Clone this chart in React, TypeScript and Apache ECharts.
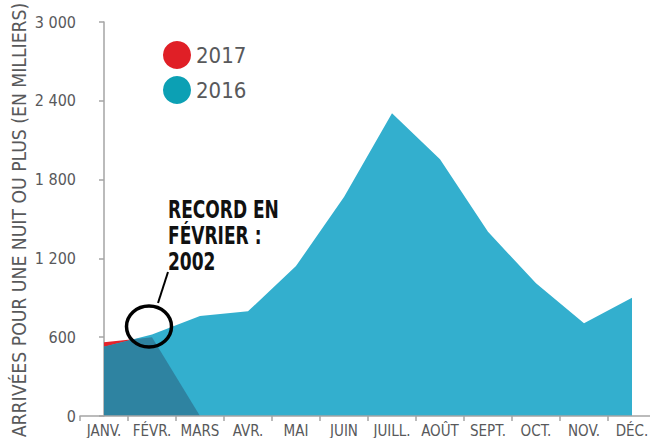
import React, { useEffect, useRef } from "react";
import * as echarts from "echarts";

const months = ["JANV.", "FÉVR.", "MARS", "AVR.", "MAI", "JUIN", "JUILL.", "AOÛT", "SEPT.", "OCT.", "NOV.", "DÉC."];
const arrivals2016 = [528, 620, 761, 797, 1142, 1667, 2305, 1954, 1403, 1010, 706, 901];
const arrivals2017 = [561, 600, 0];
const yTicks = [0, 600, 1200, 1800, 2400, 3000];
const seriesNames = ["2017", "2016"];
const yTitle = "ARRIVÉES POUR UNE NUIT OU PLUS (EN MILLIERS)";

const FONT = "'DejaVu Sans Condensed', 'Liberation Sans Narrow', 'Roboto', sans-serif";
const GREY = "#58595b";

function overlapPoints(a: number[], b: number[]): number[][] {
  const pts: number[][] = [];
  const n = Math.min(a.length, b.length);
  for (let i = 0; i < n; i++) {
    pts.push([i, Math.min(a[i], b[i])]);
    if (i < n - 1) {
      const d0 = b[i] - a[i];
      const d1 = b[i + 1] - a[i + 1];
      if (d0 * d1 < 0) {
        const t = d0 / (d0 - d1);
        pts.push([i + t, a[i] + t * (a[i + 1] - a[i])]);
      }
    }
  }
  return pts;
}

const fmt = (v: number) => String(v).replace(/\B(?=(\d{3})+(?!\d))/g, " ");

export default function App() {
  const ref = useRef<HTMLDivElement>(null);
  useEffect(() => {
    if (!ref.current) return;
    const chart = echarts.init(ref.current, null, { renderer: "svg" });
    chart.setOption({
      animation: false,
      backgroundColor: "#ffffff",
      grid: { left: 80, top: 22, width: 576, height: 394, outerBoundsMode: "none", containLabel: false },
      legend: {
        orient: "vertical",
        left: 158,
        top: 36,
        icon: "circle",
        itemWidth: 28,
        itemHeight: 28,
        itemGap: 7,
        selectedMode: false,
        textStyle: { fontSize: 22, color: GREY, fontFamily: FONT, padding: [0, 0, 0, 0] },
        data: [
          { name: seriesNames[0], itemStyle: { color: "#e01f26" } },
          { name: seriesNames[1], itemStyle: { color: "#0ca0b4" } },
        ],
      },
      xAxis: [
        {
          type: "category",
          data: months,
          boundaryGap: true,
          axisLine: { lineStyle: { color: "#a5a5a5", width: 1.5 } },
          axisTick: { show: true, length: 5, interval: 0, lineStyle: { color: "#a5a5a5", width: 1.5 } },
          axisLabel: { color: GREY, fontSize: 15, fontFamily: FONT, margin: 7, interval: 0 },
          z: 10,
        },
        {
          type: "value",
          min: -0.5,
          max: 11.5,
          show: false,
        },
      ],
      yAxis: {
        type: "value",
        min: yTicks[0],
        max: yTicks[yTicks.length - 1],
        interval: 600,
        splitLine: { show: false },
        axisLine: { show: true, lineStyle: { color: "#a5a5a5", width: 1.5 } },
        axisTick: { show: true, length: 5, lineStyle: { color: "#a5a5a5", width: 1.5 } },
        axisLabel: { color: GREY, fontSize: 16, fontFamily: FONT, margin: 4, formatter: (v: number) => fmt(v) },
      },
      series: [
        {
          name: seriesNames[0],
          type: "line",
          data: arrivals2017,
          symbol: "none",
          lineStyle: { width: 0 },
          itemStyle: { color: "#e01f26" },
          areaStyle: { color: "#e3232b", opacity: 1 },
          z: 1,
        },
        {
          name: seriesNames[1],
          type: "line",
          data: arrivals2016,
          symbol: "none",
          lineStyle: { width: 0 },
          itemStyle: { color: "#0ca0b4" },
          areaStyle: { color: "#33afce", opacity: 1 },
          z: 2,
        },
        {
          name: "overlap",
          type: "line",
          xAxisIndex: 1,
          data: overlapPoints(arrivals2016, arrivals2017),
          symbol: "none",
          lineStyle: { width: 0 },
          areaStyle: { color: "#2e83a1", opacity: 1 },
          z: 3,
        },
      ],
      graphic: [
        {
          type: "text",
          x: 19,
          y: 220,
          rotation: Math.PI / 2,
          scaleX: 0.96,
          z: 100,
          style: {
            text: yTitle,
            fontSize: 20,
            fontFamily: FONT,
            fill: GREY,
            align: "center",
            verticalAlign: "middle",
          },
        },
        {
          type: "text",
          x: 168,
          y: 197,
          z: 100,
          scaleX: 0.79,
          style: {
            text: "RECORD EN\nFÉVRIER :\n2002",
            fontSize: 24,
            fontWeight: "bold",
            fontFamily: FONT,
            lineHeight: 26,
            fill: "#111111",
          },
        },
        {
          type: "line",
          z: 100,
          shape: { x1: 168, y1: 272, x2: 158, y2: 303 },
          style: { stroke: "#000000", lineWidth: 2 },
        },
        {
          type: "ellipse",
          z: 100,
          shape: { cx: 149, cy: 326.5, rx: 22.5, ry: 20.5 },
          style: { fill: "none", stroke: "#000000", lineWidth: 3.5 },
        },
      ],
    });
    return () => chart.dispose();
  }, []);
  return <div ref={ref} style={{ position: "fixed", left: 0, top: 0, width: 650, height: 438 }} />;
}
